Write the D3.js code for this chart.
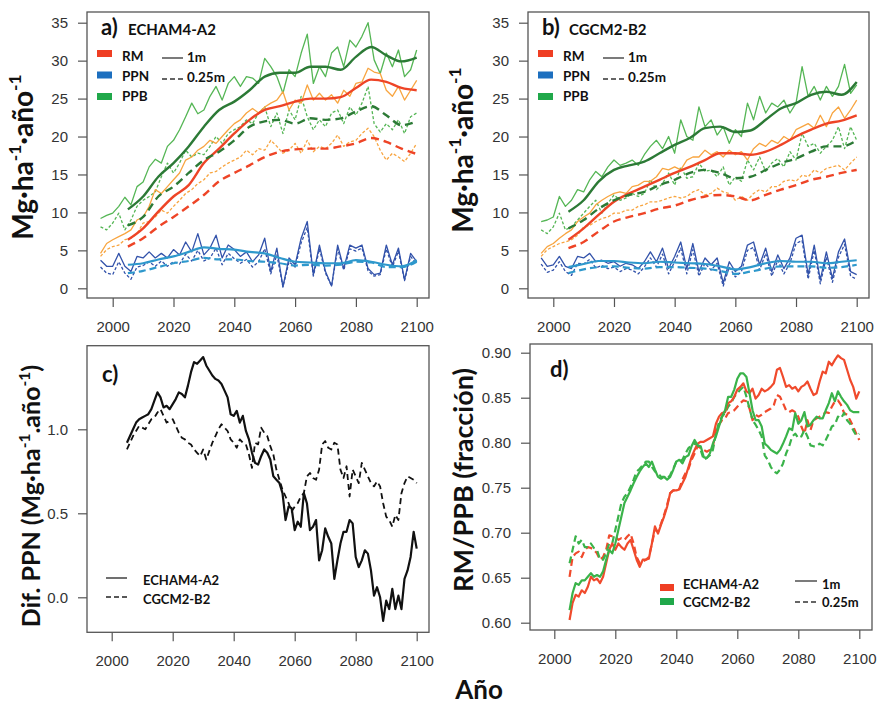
<!DOCTYPE html>
<html>
<head>
<meta charset="utf-8">
<script src="https://cdn.jsdelivr.net/npm/d3@7"></script>
<style>
  body { margin: 0; background: #fff; }
  svg { display: block; }
</style>
</head>
<body>
<div id="chart"></div>
<script>
// ---- years / ticks ----
const rawYears = d3.range(1996, 2101, 2);
const smoothYears = d3.range(2005, 2101, 5);
const annualYears = d3.range(2005, 2101);
const xTicks = [2000, 2020, 2040, 2060, 2080, 2100];
const bioTicks = [0, 5, 10, 15, 20, 25, 30, 35];
const difTicks = [0, 0.5, 1.0];
const ratioTicks = [0.60, 0.65, 0.70, 0.75, 0.80, 0.85, 0.90];

// ---- a) ECHAM4-A2, annual values (every 2 years) ----
const ppbA1 = [9.2, 9.6, 9.9, 10.8, 12.0, 11.0, 13.4, 14.0, 16.0, 17.0, 16.5, 18.7, 19.5, 20.9, 22.6, 24.4, 23.0, 23.5, 25.3, 26.6, 24.8, 27.0, 27.9, 26.6, 27.9, 27.7, 27.0, 30.3, 29.2, 27.9, 25.7, 28.8, 27.9, 31.0, 33.5, 27.0, 29.2, 27.9, 31.0, 31.8, 29.2, 32.7, 31.8, 33.2, 35.0, 30.1, 28.3, 31.0, 29.2, 31.4, 27.9, 28.8, 31.4];
const rmA1 = [4.6, 5.9, 6.4, 6.8, 7.2, 7.7, 9.0, 9.4, 10.8, 13.0, 12.5, 13.4, 14.3, 15.2, 16.9, 17.3, 18.2, 18.7, 19.5, 19.1, 20.0, 20.9, 21.7, 22.2, 23.1, 23.7, 23.1, 23.9, 24.4, 24.8, 25.9, 23.5, 24.8, 24.4, 26.8, 24.8, 25.7, 24.8, 25.5, 24.4, 26.1, 25.3, 27.0, 27.2, 29.0, 28.5, 28.3, 26.1, 25.3, 26.6, 24.8, 26.1, 27.4];
const ppbA025 = [8.1, 7.7, 8.6, 9.9, 7.7, 9.0, 10.8, 11.6, 12.1, 12.7, 14.7, 16.5, 15.2, 16.5, 18.2, 17.3, 17.8, 17.6, 18.7, 20.0, 19.1, 20.4, 20.9, 21.3, 22.2, 21.7, 23.1, 23.9, 21.3, 23.1, 20.4, 23.5, 22.2, 25.3, 22.6, 20.9, 22.2, 21.3, 23.1, 23.5, 21.7, 23.9, 22.8, 24.4, 26.6, 21.7, 20.6, 21.7, 20.9, 22.2, 20.4, 22.6, 23.1];
const rmA025 = [4.2, 5.1, 5.5, 5.7, 6.4, 6.6, 7.2, 8.6, 8.8, 9.4, 10.3, 9.9, 10.8, 11.6, 12.5, 13.0, 13.8, 14.3, 15.2, 15.4, 16.0, 16.5, 16.9, 17.3, 18.2, 17.6, 18.4, 18.2, 19.5, 18.7, 17.8, 18.2, 19.1, 17.8, 19.5, 18.0, 18.7, 18.4, 19.1, 20.2, 18.7, 19.3, 19.5, 20.4, 21.1, 20.0, 18.2, 16.9, 17.8, 17.3, 16.7, 17.8, 19.1];
const ppnA1 = [3.7, 2.9, 2.9, 4.6, 2.9, 2.2, 4.2, 4.0, 4.8, 4.0, 4.6, 4.0, 5.1, 4.4, 6.1, 4.8, 7.2, 4.4, 5.3, 7.0, 4.0, 5.7, 5.1, 4.2, 4.8, 3.5, 4.4, 6.6, 2.2, 5.3, 0.2, 4.0, 3.1, 6.6, 8.8, 1.8, 5.7, 2.2, 0.3, 5.7, 2.6, 5.7, 5.3, 5.7, 2.6, 1.8, 2.0, 5.7, 3.1, 5.3, 1.1, 4.6, 3.5];
const ppnA025 = [2.8, 2.0, 1.8, 3.5, 2.0, 1.2, 2.8, 3.0, 3.5, 2.9, 3.6, 2.9, 3.5, 3.2, 4.5, 3.6, 5.0, 3.6, 4.0, 5.3, 3.1, 4.6, 3.9, 3.3, 3.8, 2.8, 3.5, 5.2, 1.9, 4.4, 0.2, 3.5, 2.8, 6.0, 8.0, 1.6, 5.2, 2.0, 0.3, 5.2, 2.4, 5.2, 4.9, 5.3, 2.3, 1.6, 1.8, 5.2, 2.8, 4.9, 1.0, 4.2, 3.2];
// a) moving means (every 5 years)
const ppbA1s = [10.4, 12.1, 14.7, 16.5, 18.7, 21.3, 23.5, 24.6, 26.1, 27.9, 28.4, 28.4, 29.2, 29.2, 28.8, 30.5, 31.8, 30.7, 29.9, 30.4];
const rmA1s = [6.4, 7.9, 10.1, 12.1, 13.6, 16.5, 18.4, 20.4, 22.2, 23.5, 24.0, 24.6, 25.0, 25.0, 25.2, 26.4, 27.5, 27.2, 26.4, 26.1];
const ppbA025s = [8.3, 9.4, 12.1, 13.4, 15.2, 16.9, 18.0, 19.5, 21.3, 22.0, 22.2, 21.7, 22.4, 22.2, 22.4, 23.3, 24.0, 22.8, 21.5, 22.0];
const rmA025s = [5.5, 6.6, 8.1, 9.4, 10.8, 12.3, 14.1, 15.2, 16.2, 17.3, 18.0, 18.3, 18.4, 18.4, 18.7, 19.1, 19.8, 19.3, 18.4, 17.7];
const ppnA1s = [3.1, 3.3, 3.8, 4.2, 4.8, 5.4, 5.2, 5.1, 4.8, 4.6, 4.0, 3.5, 3.4, 3.3, 3.3, 3.7, 3.5, 3.1, 2.9, 3.7];
const ppnA025s = [2.0, 2.3, 2.8, 3.3, 3.6, 4.0, 3.8, 3.8, 3.6, 3.5, 3.3, 3.0, 3.1, 3.0, 3.1, 3.5, 3.4, 2.8, 2.8, 3.5];

// ---- b) CGCM2-B2 ----
const ppbB1 = [8.8, 9.0, 9.4, 12.1, 10.8, 11.6, 13.0, 12.7, 14.3, 15.4, 14.7, 16.0, 16.9, 16.2, 16.5, 16.9, 16.2, 17.6, 18.7, 19.5, 18.4, 20.0, 17.8, 22.2, 20.0, 19.5, 23.9, 21.3, 22.2, 20.2, 21.3, 19.1, 20.9, 20.0, 24.4, 22.2, 25.3, 23.1, 24.4, 23.9, 24.8, 23.1, 24.4, 29.2, 25.3, 26.6, 24.8, 26.6, 25.3, 26.6, 29.5, 25.7, 26.8];
const rmB1 = [4.6, 5.5, 5.9, 6.6, 7.2, 7.7, 8.8, 9.4, 9.9, 11.0, 11.6, 12.1, 12.5, 12.7, 12.5, 13.4, 13.6, 14.1, 14.1, 14.7, 15.8, 15.6, 16.0, 15.6, 16.9, 17.3, 17.3, 18.2, 17.6, 18.0, 17.3, 18.2, 17.6, 18.0, 16.9, 18.4, 19.1, 18.7, 19.5, 19.1, 20.0, 19.5, 20.9, 21.3, 21.7, 21.1, 22.8, 21.3, 23.1, 23.9, 22.4, 23.5, 24.8];
const ppbB025 = [7.7, 7.2, 8.1, 9.9, 7.7, 8.1, 9.0, 9.9, 10.8, 11.6, 9.9, 11.2, 12.3, 11.6, 11.9, 12.5, 12.1, 12.5, 14.3, 13.0, 13.8, 15.2, 13.6, 16.0, 14.5, 14.7, 16.5, 15.4, 15.6, 14.7, 16.0, 13.6, 14.7, 14.1, 16.9, 15.6, 17.3, 15.4, 16.5, 17.1, 16.0, 18.0, 16.9, 20.4, 18.7, 19.1, 17.8, 18.7, 19.5, 21.3, 18.4, 21.3, 19.5];
const rmB025 = [4.2, 5.1, 5.5, 5.9, 6.1, 6.4, 7.0, 8.1, 8.3, 8.8, 9.2, 9.4, 9.9, 9.9, 10.3, 10.3, 10.8, 11.0, 11.4, 11.4, 11.6, 11.9, 12.1, 11.9, 12.1, 12.7, 13.0, 12.3, 12.5, 13.2, 12.7, 12.5, 11.6, 12.1, 11.6, 12.5, 13.0, 12.7, 13.4, 13.4, 14.1, 14.3, 14.1, 14.9, 14.7, 15.6, 15.2, 15.8, 16.0, 16.2, 15.6, 16.5, 17.3];
const ppnB1 = [4.0, 2.9, 3.1, 4.2, 2.9, 2.6, 4.2, 4.0, 4.6, 3.5, 3.7, 3.3, 3.5, 2.9, 3.3, 3.1, 2.6, 3.5, 4.8, 3.5, 5.3, 2.6, 4.2, 6.1, 2.6, 5.9, 2.2, 4.0, 3.1, 4.0, 0.7, 3.5, 2.2, 2.9, 5.7, 6.1, 3.1, 5.3, 2.2, 4.4, 2.6, 4.0, 6.6, 7.0, 1.8, 5.7, 1.1, 4.8, 1.3, 4.8, 6.5, 2.2, 1.8];
const ppnB025 = [3.2, 2.1, 2.4, 3.5, 2.2, 1.7, 3.3, 3.2, 3.8, 2.7, 3.0, 2.6, 2.8, 2.2, 2.6, 2.4, 1.9, 2.8, 4.0, 2.8, 4.5, 1.9, 3.5, 5.3, 1.9, 5.1, 1.6, 3.3, 2.4, 3.3, 0.3, 2.8, 1.5, 2.2, 5.0, 5.4, 2.4, 4.6, 1.6, 3.7, 1.9, 3.3, 5.9, 6.3, 1.2, 5.0, 0.6, 4.1, 0.8, 4.1, 5.8, 1.6, 1.2];
const ppbB1s = [10.1, 11.6, 14.1, 15.6, 16.2, 16.7, 17.8, 18.9, 19.8, 21.1, 21.3, 20.6, 20.8, 22.2, 23.7, 24.4, 25.5, 25.9, 25.5, 27.2];
const rmB1s = [6.4, 7.9, 9.7, 11.4, 12.5, 13.4, 14.3, 15.2, 16.0, 16.9, 17.8, 17.8, 17.6, 18.0, 18.9, 20.0, 20.9, 21.7, 22.1, 22.8];
const ppbB025s = [7.9, 9.0, 10.5, 11.6, 12.3, 12.7, 13.6, 14.3, 15.2, 15.6, 15.2, 14.5, 14.7, 15.6, 16.5, 17.1, 18.0, 18.7, 18.7, 19.5];
const rmB025s = [5.3, 6.1, 7.5, 8.8, 9.4, 9.9, 10.5, 10.9, 11.6, 12.1, 12.3, 12.1, 11.6, 12.3, 13.0, 13.6, 14.3, 14.7, 15.2, 15.6];
const ppnB1s = [2.8, 3.2, 3.6, 3.6, 3.4, 3.3, 3.5, 3.4, 3.3, 3.2, 2.9, 2.5, 2.8, 3.3, 3.6, 3.5, 3.5, 3.3, 3.5, 3.7];
const ppnB025s = [2.0, 2.5, 2.8, 2.9, 2.7, 2.6, 2.8, 2.8, 2.7, 2.6, 2.3, 1.9, 2.2, 2.6, 2.9, 2.9, 2.9, 2.7, 2.8, 3.1];

// ---- c) Dif. PPN (1m - 0.25m), 2005-2100 ----
const difEcham = [0.92, 0.96, 1.00, 1.04, 1.06, 1.07, 1.08, 1.09, 1.12, 1.17,
  1.22, 1.19, 1.13, 1.14, 1.12, 1.15, 1.18, 1.22, 1.21, 1.19,
  1.26, 1.34, 1.40, 1.39, 1.41, 1.43, 1.38, 1.35, 1.32, 1.30,
  1.29, 1.27, 1.23, 1.19, 1.09, 1.08, 1.11, 1.04, 1.08, 0.99,
  0.94, 0.86, 0.80, 0.79, 0.84, 0.88, 0.86, 0.82, 0.72, 0.70,
  0.68, 0.62, 0.46, 0.54, 0.53, 0.40, 0.45, 0.42, 0.62, 0.56,
  0.40, 0.42, 0.46, 0.22, 0.28, 0.41, 0.36, 0.32, 0.11, 0.22,
  0.32, 0.39, 0.39, 0.46, 0.44, 0.24, 0.18, 0.22, 0.28, 0.26,
  0.16, 0.01, 0.06, 0.00, -0.14, -0.02, -0.07, 0.05, -0.07, 0.01,
  -0.07, 0.11, 0.16, 0.24, 0.39, 0.29];
const difCgcm = [0.88, 0.92, 0.96, 0.99, 1.02, 1.01, 1.00, 1.03, 1.06, 1.07,
  1.10, 1.12, 1.08, 1.04, 1.05, 1.06, 1.02, 0.98, 0.95, 0.94,
  0.92, 0.91, 0.88, 0.86, 0.84, 0.88, 0.82, 0.87, 0.92, 0.96,
  1.00, 1.03, 1.01, 0.99, 0.94, 0.92, 0.89, 0.94, 0.92, 0.91,
  0.85, 0.77, 0.92, 0.91, 1.01, 0.98, 0.96, 0.90, 0.85, 0.76,
  0.70, 0.64, 0.60, 0.56, 0.51, 0.54, 0.56, 0.60, 0.62, 0.72,
  0.74, 0.71, 0.70, 0.76, 0.91, 0.93, 0.89, 0.88, 0.92, 0.91,
  0.76, 0.71, 0.78, 0.60, 0.76, 0.72, 0.68, 0.80, 0.76, 0.72,
  0.68, 0.66, 0.69, 0.66, 0.56, 0.48, 0.46, 0.42, 0.49, 0.46,
  0.62, 0.68, 0.72, 0.71, 0.70, 0.68];

// ---- d) RM/PPB, 2005-2100 ----
const ratioEcham1 = [0.603, 0.622, 0.631, 0.629, 0.636, 0.633, 0.640, 0.651, 0.647, 0.649,
  0.644, 0.651, 0.666, 0.681, 0.688, 0.681, 0.688, 0.684, 0.681, 0.688,
  0.692, 0.681, 0.670, 0.662, 0.670, 0.670, 0.671, 0.688, 0.707, 0.699,
  0.709, 0.718, 0.729, 0.744, 0.747, 0.747, 0.748, 0.755, 0.762, 0.773,
  0.784, 0.792, 0.799, 0.801, 0.801, 0.803, 0.805, 0.807, 0.821, 0.829,
  0.833, 0.834, 0.844, 0.846, 0.851, 0.859, 0.862, 0.866, 0.857, 0.855,
  0.860, 0.849, 0.853, 0.860, 0.857, 0.859, 0.862, 0.866, 0.881, 0.883,
  0.873, 0.862, 0.864, 0.860, 0.862, 0.857, 0.862, 0.864, 0.868, 0.860,
  0.853, 0.855, 0.868, 0.879, 0.877, 0.890, 0.886, 0.892, 0.897, 0.894,
  0.892, 0.881, 0.870, 0.862, 0.849, 0.857];
const ratioEcham025 = [0.651, 0.673, 0.677, 0.679, 0.673, 0.681, 0.684, 0.683, 0.681, 0.677,
  0.670, 0.673, 0.681, 0.697, 0.696, 0.696, 0.692, 0.694, 0.692, 0.696,
  0.699, 0.688, 0.673, 0.666, 0.668, 0.670, 0.673, 0.688, 0.703, 0.701,
  0.710, 0.720, 0.731, 0.744, 0.747, 0.747, 0.749, 0.759, 0.766, 0.771,
  0.781, 0.788, 0.796, 0.794, 0.792, 0.790, 0.792, 0.796, 0.814, 0.820,
  0.825, 0.827, 0.833, 0.834, 0.836, 0.840, 0.844, 0.847, 0.846, 0.838,
  0.825, 0.831, 0.829, 0.831, 0.834, 0.836, 0.838, 0.842, 0.853, 0.851,
  0.844, 0.836, 0.834, 0.836, 0.834, 0.829, 0.818, 0.810, 0.825, 0.814,
  0.825, 0.827, 0.829, 0.831, 0.834, 0.833, 0.840, 0.846, 0.847, 0.842,
  0.833, 0.831, 0.825, 0.818, 0.810, 0.803];
const ratioCgcm1 = [0.614, 0.633, 0.644, 0.642, 0.647, 0.647, 0.651, 0.655, 0.651, 0.653,
  0.651, 0.657, 0.670, 0.681, 0.677, 0.688, 0.703, 0.718, 0.733, 0.740,
  0.747, 0.755, 0.762, 0.768, 0.773, 0.777, 0.773, 0.779, 0.770, 0.762,
  0.760, 0.762, 0.759, 0.762, 0.770, 0.779, 0.781, 0.777, 0.784, 0.786,
  0.796, 0.803, 0.797, 0.796, 0.784, 0.783, 0.788, 0.799, 0.807, 0.818,
  0.829, 0.836, 0.851, 0.851, 0.859, 0.871, 0.877, 0.877, 0.873, 0.855,
  0.836, 0.825, 0.825, 0.818, 0.799, 0.796, 0.792, 0.790, 0.788, 0.792,
  0.799, 0.807, 0.816, 0.814, 0.833, 0.821, 0.825, 0.834, 0.818, 0.820,
  0.825, 0.829, 0.827, 0.827, 0.836, 0.844, 0.855, 0.846, 0.857, 0.851,
  0.846, 0.842, 0.836, 0.834, 0.834, 0.834];
const ratioCgcm025 = [0.666, 0.681, 0.696, 0.688, 0.692, 0.684, 0.684, 0.688, 0.683, 0.681,
  0.670, 0.670, 0.677, 0.688, 0.688, 0.703, 0.718, 0.733, 0.740, 0.744,
  0.751, 0.759, 0.768, 0.771, 0.775, 0.779, 0.779, 0.773, 0.768, 0.766,
  0.762, 0.762, 0.760, 0.764, 0.771, 0.779, 0.779, 0.781, 0.788, 0.794,
  0.797, 0.799, 0.797, 0.792, 0.781, 0.783, 0.786, 0.792, 0.810, 0.823,
  0.829, 0.833, 0.840, 0.844, 0.851, 0.855, 0.859, 0.862, 0.851, 0.838,
  0.825, 0.820, 0.814, 0.807, 0.786, 0.781, 0.773, 0.768, 0.766, 0.770,
  0.777, 0.788, 0.796, 0.807, 0.810, 0.805, 0.807, 0.814, 0.807, 0.797,
  0.796, 0.796, 0.799, 0.797, 0.803, 0.810, 0.818, 0.820, 0.829, 0.827,
  0.833, 0.825, 0.821, 0.814, 0.808, 0.810];

// ---- styles ----
const col = {
  ppbRaw: '#55b655', ppbMean: '#2c7a36',
  rmRaw: '#f8a540', rmMean: '#ee4426',
  ppnRaw: '#3252aa', ppnMean: '#2e98cc',
  rmKey: '#ef3e23', ppnKey: '#1c6fbf', ppbKey: '#20a84a',
  red: '#f04a2c', green: '#3ab34a'
};
const sans = '"Liberation Sans", Arial, sans-serif';
const bold = 'Lato, "Open Sans", sans-serif';

const svg = d3.select('#chart').append('svg')
    .attr('width', 877)
    .attr('height', 704);

function drawPanel(cfg) {
  const x = d3.scaleLinear().domain([2000, 2100]).range(cfg.xRange);
  const y = d3.scaleLinear().domain(cfg.yDomain).range(cfg.yRange);
  const [fx0, fy0, fx1, fy1] = cfg.frame;
  const g = svg.append('g');

  const line = d3.line().x(d => x(d[0])).y(d => y(d[1]));

  cfg.series.forEach(s => {
    g.append('path')
        .datum(d3.zip(s.years, s.values))
        .attr('d', s.smooth ? line.curve(d3.curveMonotoneX)(d3.zip(s.years, s.values)) : line.curve(d3.curveLinear)(d3.zip(s.years, s.values)))
        .attr('fill', 'none')
        .attr('stroke', s.color)
        .attr('stroke-width', s.width)
        .attr('stroke-dasharray', s.dash || null)
        .attr('stroke-linejoin', 'round');
  });

  g.append('rect')
      .attr('x', fx0).attr('y', fy0)
      .attr('width', fx1 - fx0).attr('height', fy1 - fy0)
      .attr('fill', 'none')
      .attr('stroke', '#555')
      .attr('stroke-width', 1.3);

  const yAxis = g.append('g')
      .attr('transform', `translate(${fx0},0)`)
      .call(d3.axisLeft(y).tickValues(cfg.yTicks).tickSize(9).tickPadding(10).tickFormat(cfg.yFormat));
  const xAxis = g.append('g')
      .attr('transform', `translate(0,${fy1})`)
      .call(d3.axisBottom(x).tickValues(xTicks).tickSize(9).tickPadding(14).tickFormat(d3.format('d')));
  [yAxis, xAxis].forEach(a => {
    a.select('.domain').remove();
    a.attr('color', '#555');
    a.selectAll('line').attr('stroke-width', 1.2);
    a.selectAll('text')
        .attr('fill', '#333')
        .attr('font-family', sans)
        .attr('font-size', 15);
  });
  return g;
}

function richText(parent, x, y, parts, size, rotate) {
  const t = parent.append('text')
      .attr('transform', `translate(${x},${y})` + (rotate ? ' rotate(-90)' : ''))
      .attr('text-anchor', 'middle')
      .attr('font-family', bold)
      .attr('font-weight', 700)
      .attr('font-size', size)
      .attr('fill', '#111');
  let shifted = false;
  parts.forEach(p => {
    const sup = p.startsWith('^');
    const span = t.append('tspan').text(sup ? p.slice(1) : p);
    if (sup) {
      span.attr('font-size', size * 0.62).attr('dy', -size * 0.42);
      shifted = true;
    } else if (shifted) {
      span.attr('dy', size * 0.42);
      shifted = false;
    }
  });
  return t;
}

function label(parent, x, y, text, size) {
  return parent.append('text')
      .attr('x', x).attr('y', y)
      .attr('font-family', bold)
      .attr('font-weight', 700)
      .attr('font-size', size)
      .attr('fill', '#111')
      .text(text);
}

function bioSeries(p) {
  return [
    {years: rawYears, values: p.ppb025, color: col.ppbRaw, width: 1.3, dash: '3,2'},
    {years: rawYears, values: p.ppb1, color: col.ppbRaw, width: 1.3},
    {years: rawYears, values: p.rm025, color: col.rmRaw, width: 1.3, dash: '3,2'},
    {years: rawYears, values: p.rm1, color: col.rmRaw, width: 1.3},
    {years: rawYears, values: p.ppn025, color: col.ppnRaw, width: 1.3, dash: '3,2'},
    {years: rawYears, values: p.ppn1, color: col.ppnRaw, width: 1.3},
    {years: smoothYears, values: p.ppn025s, color: col.ppnMean, width: 2.2, dash: '7,4', smooth: true},
    {years: smoothYears, values: p.ppn1s, color: col.ppnMean, width: 2.2, smooth: true},
    {years: smoothYears, values: p.rm025s, color: col.rmMean, width: 2.4, dash: '8,5', smooth: true},
    {years: smoothYears, values: p.rm1s, color: col.rmMean, width: 2.4, smooth: true},
    {years: smoothYears, values: p.ppb025s, color: col.ppbMean, width: 2.4, dash: '8,5', smooth: true},
    {years: smoothYears, values: p.ppb1s, color: col.ppbMean, width: 2.4, smooth: true}
  ];
}

function bioLegend(g, fx, tag, name) {
  label(g, fx + 14, 35, tag, 22);
  label(g, fx + 41, 35, name, 15);
  const keys = [['RM', col.rmKey], ['PPN', col.ppnKey], ['PPB', col.ppbKey]];
  keys.forEach((k, i) => {
    g.append('rect').attr('x', fx + 10).attr('y', 50 + i * 21.5).attr('width', 15).attr('height', 7).attr('fill', k[1]);
    label(g, fx + 35, 61 + i * 20, k[0], 13.5);
  });
  [['1m', null], ['0.25m', '5,3']].forEach((k, i) => {
    g.append('line').attr('x1', fx + 75).attr('x2', fx + 96)
        .attr('y1', 58 + i * 21).attr('y2', 58 + i * 21)
        .attr('stroke', '#333').attr('stroke-width', 1.3)
        .attr('stroke-dasharray', k[1]);
    label(g, fx + 100, 62 + i * 20, k[0], 13.5);
  });
}

// a)
const ga = drawPanel({
  xRange: [112.7, 416.7], yDomain: [0, 35], yRange: [288.3, 22.7],
  frame: [87, 12, 429, 298], yTicks: bioTicks, yFormat: d3.format('d'),
  series: bioSeries({ppb1: ppbA1, ppb025: ppbA025, rm1: rmA1, rm025: rmA025, ppn1: ppnA1, ppn025: ppnA025,
    ppb1s: ppbA1s, ppb025s: ppbA025s, rm1s: rmA1s, rm025s: rmA025s, ppn1s: ppnA1s, ppn025s: ppnA025s})
});
bioLegend(ga, 87, 'a)', 'ECHAM4-A2');

// b)
const gb = drawPanel({
  xRange: [553.3, 856.7], yDomain: [0, 35], yRange: [288.3, 22.7],
  frame: [528, 12, 869, 298], yTicks: bioTicks, yFormat: d3.format('d'),
  series: bioSeries({ppb1: ppbB1, ppb025: ppbB025, rm1: rmB1, rm025: rmB025, ppn1: ppnB1, ppn025: ppnB025,
    ppb1s: ppbB1s, ppb025s: ppbB025s, rm1s: rmB1s, rm025s: rmB025s, ppn1s: ppnB1s, ppn025s: ppnB025s})
});
bioLegend(gb, 528, 'b)', 'CGCM2-B2');

const bioLabel = ['Mg·ha', '^-1', '·año', '^-1'];
richText(svg, 33, 157, bioLabel, 28, true);
richText(svg, 473, 150, bioLabel, 28, true);

// c)
const gc = drawPanel({
  xRange: [111.7, 416.7], yDomain: [0, 1], yRange: [597.3, 429.3],
  frame: [87, 345.7, 429, 632.3], yTicks: difTicks, yFormat: d3.format('.1f'),
  series: [
    {years: annualYears, values: difCgcm, color: '#111', width: 1.8, dash: '6,4'},
    {years: annualYears, values: difEcham, color: '#111', width: 2.2}
  ]
});
label(gc, 102, 382, 'c)', 22);
[['ECHAM4-A2', null], ['CGCM2-B2', '5,3']].forEach((k, i) => {
  gc.append('line').attr('x1', 106).attr('x2', 127)
      .attr('y1', 578 + i * 19).attr('y2', 578 + i * 19)
      .attr('stroke', '#222').attr('stroke-width', 1.3)
      .attr('stroke-dasharray', k[1]);
  label(gc, 143, 585 + i * 19, k[0], 13);
});
richText(svg, 40, 496, ['Dif. PPN (Mg·ha', '^-1', '.año', '^-1', ')'], 25, true);

// d)
const gd = drawPanel({
  xRange: [554.3, 859.3], yDomain: [0.6, 0.9], yRange: [622.7, 352.7],
  frame: [530, 344, 872, 630], yTicks: ratioTicks, yFormat: d3.format('.2f'),
  series: [
    {years: annualYears, values: ratioEcham025, color: col.red, width: 2.2, dash: '7,4'},
    {years: annualYears, values: ratioCgcm025, color: col.green, width: 2.2, dash: '7,4'},
    {years: annualYears, values: ratioEcham1, color: col.red, width: 2.2},
    {years: annualYears, values: ratioCgcm1, color: col.green, width: 2.2}
  ]
});
label(gd, 550, 377, 'd)', 22);
[['ECHAM4-A2', col.rmKey], ['CGCM2-B2', col.ppbKey]].forEach((k, i) => {
  gd.append('rect').attr('x', 660).attr('y', 584 + i * 14).attr('width', 14).attr('height', 7).attr('fill', k[1]);
  label(gd, 683, 589 + i * 18, k[0], 13);
});
[['1m', null], ['0.25m', '5,3']].forEach((k, i) => {
  gd.append('line').attr('x1', 795).attr('x2', 817)
      .attr('y1', 581 + i * 21).attr('y2', 581 + i * 21)
      .attr('stroke', '#333').attr('stroke-width', 1.3)
      .attr('stroke-dasharray', k[1]);
  label(gd, 822, 589 + i * 18, k[0], 13);
});
richText(svg, 473, 480, ['RM/PPB (fracción)'], 27, true);

// shared x title
richText(svg, 479, 699, ['Año'], 26, false);
</script>
</body>
</html>
